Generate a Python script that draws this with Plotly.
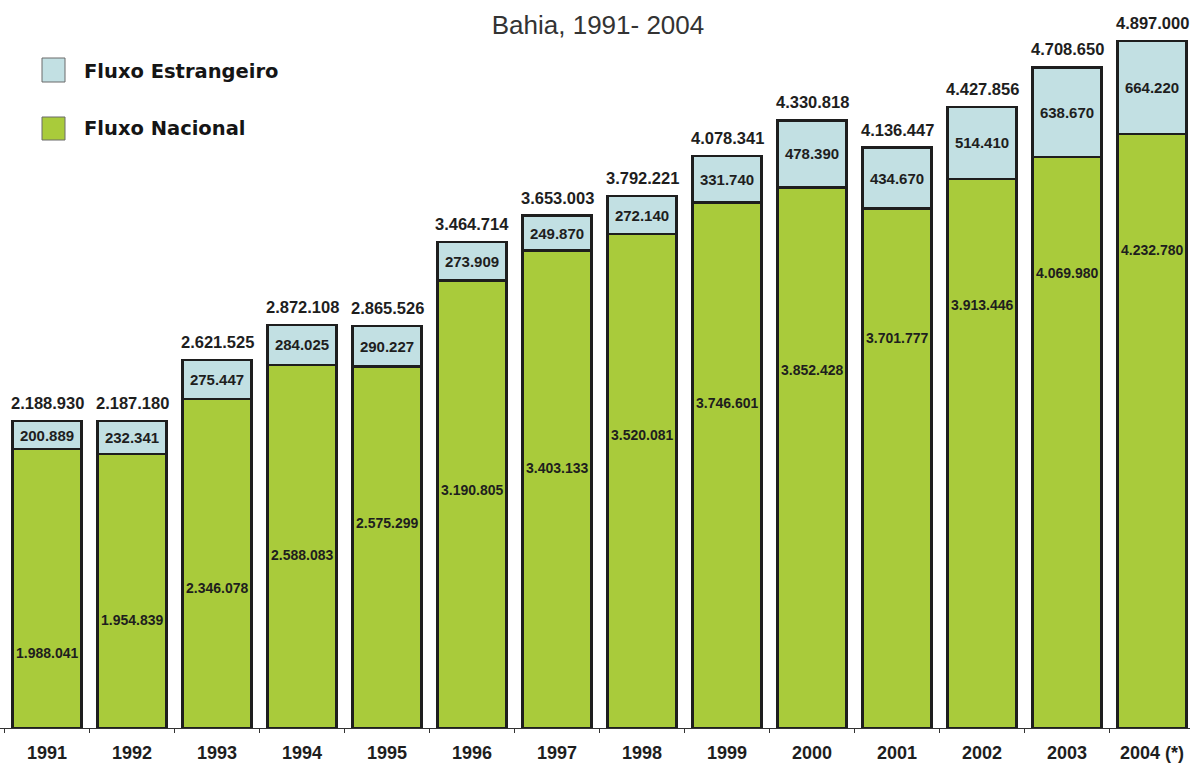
import plotly.graph_objects as go

# ---- data ----
years = ["1991", "1992", "1993", "1994", "1995", "1996", "1997",
         "1998", "1999", "2000", "2001", "2002", "2003", "2004 (*)"]
fluxo_nacional = [1988041, 1954839, 2346078, 2588083, 2575299, 3190805, 3403133,
                  3520081, 3746601, 3852428, 3701777, 3913446, 4069980, 4232780]
fluxo_estrangeiro = [200889, 232341, 275447, 284025, 290227, 273909, 249870,
                     272140, 331740, 478390, 434670, 514410, 638670, 664220]
totais = [2188930, 2187180, 2621525, 2872108, 2865526, 3464714, 3653003,
          3792221, 4078341, 4330818, 4136447, 4427856, 4708650, 4897000]

titulo = "Bahia, 1991- 2004"
nome_estr = "Fluxo Estrangeiro"
nome_nac = "Fluxo Nacional"

# ---- style ----
W, H = 1190, 763
PLOT_H = 728            # plot area height in px (bottom margin 35)
GREEN = "#a9cb3b"
BLUE = "#c2e0e3"
EDGE = "#1e1e1e"
TXT = "#1e1e1e"
NUMFONT = "Liberation Sans"


def br(v):
    return f"{v:,}".replace(",", ".")


fig = go.Figure()
fig.add_trace(go.Bar(
    x=years, y=fluxo_nacional, name=nome_nac,
    marker=dict(color=GREEN, line=dict(color=EDGE, width=2.5)),
    hoverinfo="x+y",
))
fig.add_trace(go.Bar(
    x=years, y=fluxo_estrangeiro, name=nome_estr,
    marker=dict(color=BLUE, line=dict(color=EDGE, width=2.5)),
    text=[br(v) for v in fluxo_estrangeiro],
    textposition="inside", insidetextanchor="middle",
    textfont=dict(family=NUMFONT, size=15, color=TXT, weight=700),
    textangle=0, constraintext="none",
    hoverinfo="x+y",
))

annotations = []
n = len(years)
# totals above the bars (x given as category index)
for i, t in enumerate(totais):
    annotations.append(dict(
        x=i, y=t, xref="x", yref="y", text=br(t), showarrow=False,
        yshift=18, font=dict(family=NUMFONT, size=16.5, color=TXT, weight=700),
    ))
# national labels, staggered diagonally across the chart
for i, v in enumerate(fluxo_nacional):
    ypx = 663 - (663 - 240) * i / (n - 1)
    annotations.append(dict(
        x=i, y=1 - ypx / PLOT_H, xref="x", yref="paper", text=br(v),
        showarrow=False,
        font=dict(family=NUMFONT, size=14, color=TXT, weight=700),
    ))

# custom legend
shapes = []
for name, color, y0, y1, yc in [(nome_estr, BLUE, 58, 82, 72),
                                 (nome_nac, GREEN, 117, 140, 128)]:
    shapes.append(dict(
        type="rect", xref="paper", yref="paper",
        x0=42 / W, x1=65 / W, y0=1 - y1 / PLOT_H, y1=1 - y0 / PLOT_H,
        fillcolor=color, line=dict(color="#6a6a6a", width=1),
    ))
    annotations.append(dict(
        x=82 / W, y=1 - yc / PLOT_H, xref="paper", yref="paper",
        xanchor="left", yanchor="middle", text=name, showarrow=False,
        font=dict(family="DejaVu Sans", size=19.5, color="#151515", weight=700),
    ))

px_per_unit = (PLOT_H - 41) / totais[-1]

fig.update_layout(
    width=W, height=H,
    margin=dict(l=0, r=0, t=0, b=H - PLOT_H, pad=0),
    barmode="stack",
    bargap=0.19,
    showlegend=False,
    plot_bgcolor="white", paper_bgcolor="white",
    title=dict(text=titulo, x=598 / W, xanchor="center", y=1 - 25 / H,
               yanchor="middle",
               font=dict(family="Liberation Sans", size=26, color="#333333")),
    xaxis=dict(
        type="category",
        range=[-47 / 85, (W - 47) / 85],
        showline=True, linecolor="#333333", linewidth=1,
        ticks="outside", tickson="boundaries", ticklen=4, tickcolor="#333333",
        tickfont=dict(family=NUMFONT, size=18, color=TXT, weight=700),
        ticklabelstandoff=8,
        showgrid=False, zeroline=False,
    ),
    yaxis=dict(
        range=[0, PLOT_H / px_per_unit],
        visible=False, showgrid=False, zeroline=False,
    ),
    annotations=annotations,
    shapes=shapes,
)

fig.write_html("out.html")
